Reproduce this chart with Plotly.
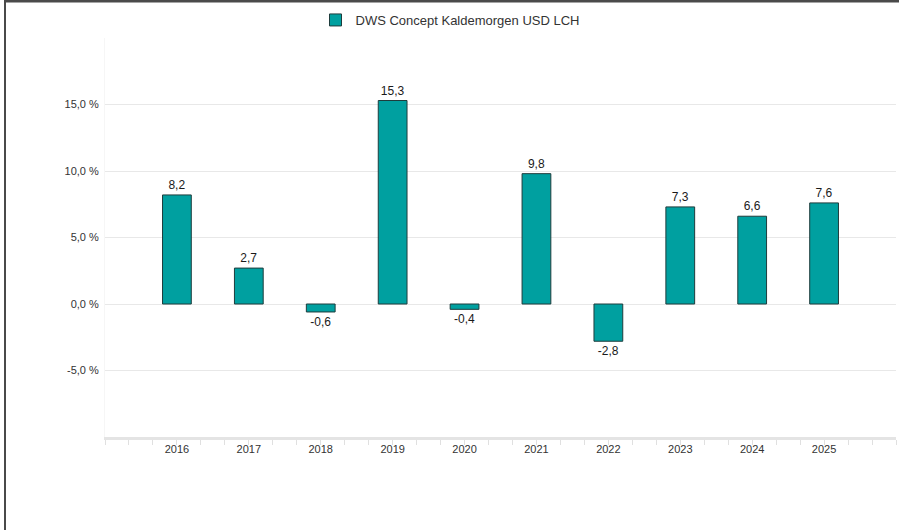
import plotly.graph_objects as go

years = ["2016", "2017", "2018", "2019", "2020", "2021", "2022", "2023", "2024", "2025"]
returns = [8.2, 2.7, -0.6, 15.3, -0.4, 9.8, -2.8, 7.3, 6.6, 7.6]
series_name = "DWS Concept Kaldemorgen USD LCH"
y_tick_vals = [-5, 0, 5, 10, 15, 20]
y_tick_text = ["-5,0 %", "0,0 %", "5,0 %", "10,0 %", "15,0 %", ""]

FONT = "Liberation Sans, Arial, sans-serif"
W, H = 899, 530
L, R, T, B = 105, 3, 38, 93

xpos = list(range(len(years)))
labels = [f"{v:.1f}".replace(".", ",") for v in returns]

fig = go.Figure()
fig.add_trace(go.Bar(
    x=xpos, y=returns, name=series_name, width=0.4,
    marker=dict(color="#00A0A0", line=dict(color="#1E3C3C", width=1)),
    text=labels, textposition="outside", cliponaxis=False,
    textfont=dict(family=FONT, size=12, color="#1a1a1a"),
    showlegend=True,
))

pw = W - L - R
ph = H - T - B
def px(x):
    return (x - L) / pw
def py(y):
    return (H - B - y) / ph

shapes = [
    dict(type="line", xref="paper", yref="paper", x0=px(5), x1=px(5), y0=py(0), y1=py(H),
         line=dict(color="#4a4a4a", width=2), layer="above"),
    dict(type="line", xref="paper", yref="paper", x0=px(4), x1=px(W), y0=py(1.2), y1=py(1.2),
         line=dict(color="#4a4a4a", width=2.4), layer="above"),
]

fig.update_layout(
    width=W, height=H,
    margin=dict(l=L, r=R, t=T, b=B, pad=0),
    paper_bgcolor="white", plot_bgcolor="white",
    font=dict(family=FONT, size=11, color="#333333"),
    showlegend=True,
    legend=dict(orientation="h", x=px(450), y=py(20), xanchor="center", yanchor="middle",
                font=dict(family=FONT, size=13, color="#333333"), bgcolor="rgba(0,0,0,0)"),
    bargap=0.6,
    shapes=shapes,
    xaxis=dict(
        range=[-1, len(years)], tickmode="array", tickvals=xpos, ticktext=years,
        showgrid=False, zeroline=False,
        showline=True, linecolor="#E4E4E4", linewidth=3,
        ticks="", ticklen=0,
        minor=dict(dtick=1/3, tick0=-1, ticks="outside", ticklen=5, tickcolor="#E0E0E0", tickwidth=1, showgrid=False),
        tickfont=dict(family=FONT, size=11, color="#333333"),
        fixedrange=True,
    ),
    yaxis=dict(
        range=[-10, 20], tickmode="array", tickvals=y_tick_vals, ticktext=y_tick_text,
        showgrid=True, gridcolor="#E8E8E8", gridwidth=1, zeroline=False,
        showline=True, linecolor="#F6F6F6", linewidth=1,
        ticks="", ticklabelstandoff=3,
        tickfont=dict(family=FONT, size=11, color="#333333"),
        fixedrange=True,
    ),
)

fig.write_html("out.html", config={"displayModeBar": False},
               post_script="document.body.style.margin='0px';document.body.style.overflow='hidden';")
